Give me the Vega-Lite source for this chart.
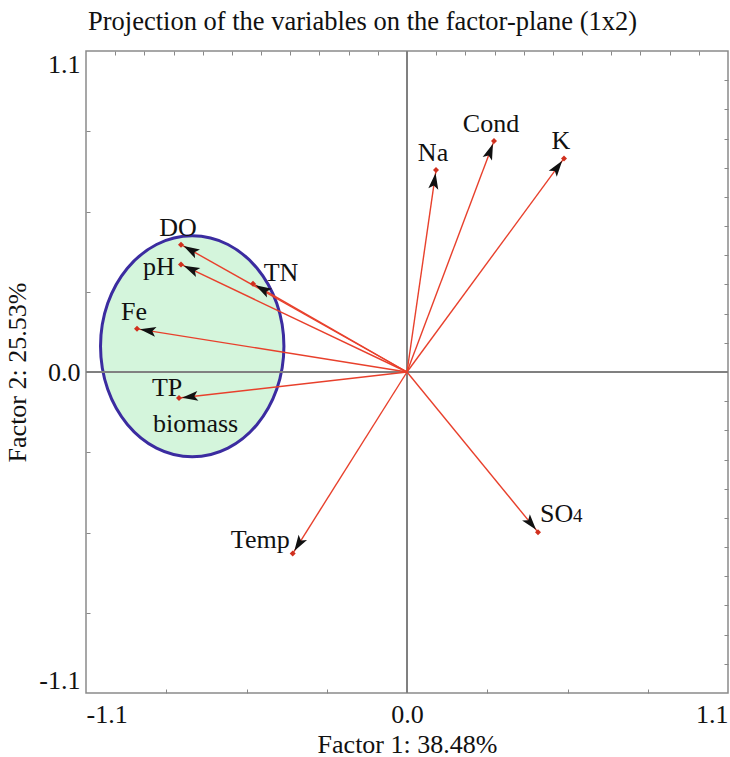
{
  "$schema": "https://vega.github.io/schema/vega-lite/v6.json",
  "width": 642,
  "height": 642,
  "autosize": "none",
  "padding": {"left": 86, "top": 51, "right": 2, "bottom": 64},
  "title": {"text": "Projection of the variables on the factor-plane (1x2)", "anchor": "start", "frame": "group", "dx": 2, "font": "Liberation Serif", "fontSize": 26.5, "fontWeight": "normal", "color": "#111", "baseline": "alphabetic", "offset": -6},
  "datasets": {
    "vars": [
      {"label": "DO", "x": -0.7745, "y": 0.4364},
      {"label": "pH", "x": -0.7745, "y": 0.3687},
      {"label": "TN", "x": -0.5278, "y": 0.3024},
      {"label": "Fe", "x": -0.9253, "y": 0.1478},
      {"label": "TP", "x": -0.7814, "y": -0.0893},
      {"label": "Temp", "x": -0.3917, "y": -0.622},
      {"label": "SO4", "x": 0.4489, "y": -0.5488},
      {"label": "Na", "x": 0.0994, "y": 0.6918},
      {"label": "Cond", "x": 0.2982, "y": 0.7914},
      {"label": "K", "x": 0.538, "y": 0.732}
    ],
    "ellipse": [{"cx": -0.736, "cy": 0.088}]
  },
  "data": {"name": "vars"},
  "config": {
    "view": {"stroke": "#8a8a8a", "strokeWidth": 1.5},
    "axis": {"labelFont": "Liberation Serif", "labelFontSize": 26, "labelColor": "#111", "titleFont": "Liberation Serif", "titleFontSize": 26, "titleFontWeight": "normal", "titleColor": "#111", "tickColor": "#888", "grid": false}
  },
  "layer": [
    {
      "data": {"name": "ellipse"},
      "mark": {"type": "point", "shape": "M1,0 C1,0.6655 0.5523,1.205 0,1.205 C-0.5523,1.205 -1,0.6655 -1,0 C-1,-0.6655 -0.5523,-1.205 0,-1.205 C0.5523,-1.205 1,-0.6655 1,0 Z", "size": 33636, "filled": true, "fill": "#d4f5dc", "stroke": "#3b2ca0", "strokeWidth": 3, "opacity": 1},
      "encoding": {
        "x": {"field": "cx", "type": "quantitative", "scale": {"domain": [-1.1, 1.1], "nice": false, "zero": false},
              "axis": {"orient": "bottom", "values": [-1.1, 0, 1.1], "format": ".1f", "labelExpr": "replace(datum.label, '−', '-')", "labelFlush": true, "ticks": false, "domain": false, "grid": false, "title": "Factor 1: 38.48%", "labelPadding": 8, "titlePadding": 4}},
        "y": {"field": "cy", "type": "quantitative", "scale": {"domain": [-1.1, 1.1], "nice": false, "zero": false},
              "axis": {"orient": "left", "values": [-1.1, 0, 1.1], "format": ".1f", "labelExpr": "replace(datum.label, '−', '-')", "labelFlush": true, "ticks": false, "domain": false, "grid": false, "title": "Factor 2: 25.53%", "labelPadding": 6, "titlePadding": 8}}
      }
    },
    {
      "mark": {"type": "rule", "color": "#808080", "strokeWidth": 1},
      "encoding": {"x": {"datum": 0, "type": "quantitative", "scale": {"domain": [-1.1, 1.1], "nice": false, "zero": false}, "axis": null}}
    },
    {
      "mark": {"type": "rule", "color": "#808080", "strokeWidth": 1},
      "encoding": {"y": {"datum": 0, "type": "quantitative", "scale": {"domain": [-1.1, 1.1], "nice": false, "zero": false}, "axis": null}}
    },
    {
      "mark": {"type": "rule", "color": "#e8402c", "strokeWidth": 1.4},
      "encoding": {
        "x": {"field": "x", "type": "quantitative", "scale": {"domain": [-1.1, 1.1], "nice": false, "zero": false},
              "axis": {"orient": "bottom", "values": [-0.825, -0.55, -0.275, 0.275, 0.55, 0.825], "labels": false, "domain": false, "grid": false, "title": null, "ticks": true, "tickSize": 4, "offset": -4}},
        "y": {"field": "y", "type": "quantitative", "scale": {"domain": [-1.1, 1.1], "nice": false, "zero": false},
              "axis": {"orient": "left", "values": [-0.825, -0.55, -0.275, 0.275, 0.55, 0.825], "labels": false, "domain": false, "grid": false, "title": null, "ticks": true, "tickSize": 4, "offset": -4}},
        "x2": {"datum": 0},
        "y2": {"datum": 0}
      }
    },
    {
      "transform": [{"calculate": "atan2(datum.x, datum.y) * 180 / PI", "as": "angle"}],
      "mark": {"type": "point", "shape": "M0,0.3 L0.5,1.9 L0,1.55 L-0.5,1.9 Z", "size": 400, "filled": true, "color": "#111", "opacity": 1, "strokeWidth": 0},
      "encoding": {
        "x": {"field": "x", "type": "quantitative", "scale": {"domain": [-1.1, 1.1], "nice": false, "zero": false},
              "axis": {"orient": "top", "values": [-1, -0.9, -0.8, -0.7, -0.6, -0.5, -0.4, -0.3, -0.2, -0.1, 0.1, 0.2, 0.3, 0.4, 0.5, 0.6, 0.7, 0.8, 0.9, 1], "labels": false, "domain": false, "grid": false, "title": null, "ticks": true, "tickSize": 4, "offset": -4}},
        "y": {"field": "y", "type": "quantitative", "scale": {"domain": [-1.1, 1.1], "nice": false, "zero": false},
              "axis": {"orient": "right", "values": [-1, -0.9, -0.8, -0.7, -0.6, -0.5, -0.4, -0.3, -0.2, -0.1, 0.1, 0.2, 0.3, 0.4, 0.5, 0.6, 0.7, 0.8, 0.9, 1], "labels": false, "domain": false, "grid": false, "title": null, "ticks": true, "tickSize": 4, "offset": -4}},
        "angle": {"field": "angle", "type": "quantitative", "scale": null}
      }
    },
    {
      "mark": {"type": "point", "shape": "diamond", "size": 36, "filled": true, "color": "#d0301e", "opacity": 1},
      "encoding": {
        "x": {"field": "x", "type": "quantitative", "scale": {"domain": [-1.1, 1.1], "nice": false, "zero": false}, "axis": null},
        "y": {"field": "y", "type": "quantitative", "scale": {"domain": [-1.1, 1.1], "nice": false, "zero": false}, "axis": null}
      }
    },
    {
      "transform": [{"filter": {"field": "label", "oneOf": ["DO", "Fe", "Na", "Cond", "K"]}}],
      "mark": {"type": "text", "font": "Liberation Serif", "fontSize": 26, "color": "#111", "align": "center", "baseline": "alphabetic", "dx": -3, "dy": -9},
      "encoding": {
        "x": {"field": "x", "type": "quantitative", "scale": {"domain": [-1.1, 1.1], "nice": false, "zero": false}, "axis": null},
        "y": {"field": "y", "type": "quantitative", "scale": {"domain": [-1.1, 1.1], "nice": false, "zero": false}, "axis": null},
        "text": {"field": "label"}
      }
    },
    {
      "transform": [{"filter": {"field": "label", "equal": "pH"}}],
      "mark": {"type": "text", "font": "Liberation Serif", "fontSize": 26, "color": "#111", "align": "center", "baseline": "alphabetic", "dx": -22, "dy": 11},
      "encoding": {
        "x": {"field": "x", "type": "quantitative", "scale": {"domain": [-1.1, 1.1], "nice": false, "zero": false}, "axis": null},
        "y": {"field": "y", "type": "quantitative", "scale": {"domain": [-1.1, 1.1], "nice": false, "zero": false}, "axis": null},
        "text": {"field": "label"}
      }
    },
    {
      "transform": [{"filter": {"field": "label", "equal": "TN"}}],
      "mark": {"type": "text", "font": "Liberation Serif", "fontSize": 26, "color": "#111", "align": "center", "baseline": "alphabetic", "dx": 28, "dy": -3},
      "encoding": {
        "x": {"field": "x", "type": "quantitative", "scale": {"domain": [-1.1, 1.1], "nice": false, "zero": false}, "axis": null},
        "y": {"field": "y", "type": "quantitative", "scale": {"domain": [-1.1, 1.1], "nice": false, "zero": false}, "axis": null},
        "text": {"field": "label"}
      }
    },
    {
      "transform": [{"filter": {"field": "label", "equal": "TP"}}],
      "mark": {"type": "text", "font": "Liberation Serif", "fontSize": 26, "color": "#111", "align": "left", "baseline": "alphabetic", "dx": -27, "dy": -2},
      "encoding": {
        "x": {"field": "x", "type": "quantitative", "scale": {"domain": [-1.1, 1.1], "nice": false, "zero": false}, "axis": null},
        "y": {"field": "y", "type": "quantitative", "scale": {"domain": [-1.1, 1.1], "nice": false, "zero": false}, "axis": null},
        "text": {"field": "label"}
      }
    },
    {
      "transform": [{"filter": {"field": "label", "equal": "TP"}}],
      "mark": {"type": "text", "font": "Liberation Serif", "fontSize": 26, "color": "#111", "align": "left", "baseline": "alphabetic", "dx": -26, "dy": 34},
      "encoding": {
        "x": {"field": "x", "type": "quantitative", "scale": {"domain": [-1.1, 1.1], "nice": false, "zero": false}, "axis": null},
        "y": {"field": "y", "type": "quantitative", "scale": {"domain": [-1.1, 1.1], "nice": false, "zero": false}, "axis": null},
        "text": {"value": "biomass"}
      }
    },
    {
      "transform": [{"filter": {"field": "label", "equal": "Temp"}}],
      "mark": {"type": "text", "font": "Liberation Serif", "fontSize": 26, "color": "#111", "align": "right", "baseline": "alphabetic", "dx": -3, "dy": -6},
      "encoding": {
        "x": {"field": "x", "type": "quantitative", "scale": {"domain": [-1.1, 1.1], "nice": false, "zero": false}, "axis": null},
        "y": {"field": "y", "type": "quantitative", "scale": {"domain": [-1.1, 1.1], "nice": false, "zero": false}, "axis": null},
        "text": {"field": "label"}
      }
    },
    {
      "transform": [{"filter": {"field": "label", "equal": "SO4"}}],
      "mark": {"type": "text", "font": "Liberation Serif", "fontSize": 26, "color": "#111", "align": "left", "baseline": "alphabetic", "dx": 2, "dy": -10},
      "encoding": {
        "x": {"field": "x", "type": "quantitative", "scale": {"domain": [-1.1, 1.1], "nice": false, "zero": false}, "axis": null},
        "y": {"field": "y", "type": "quantitative", "scale": {"domain": [-1.1, 1.1], "nice": false, "zero": false}, "axis": null},
        "text": {"value": "SO"}
      }
    },
    {
      "transform": [{"filter": {"field": "label", "equal": "SO4"}}],
      "mark": {"type": "text", "font": "Liberation Serif", "fontSize": 19, "color": "#111", "align": "left", "baseline": "alphabetic", "dx": 35, "dy": -10},
      "encoding": {
        "x": {"field": "x", "type": "quantitative", "scale": {"domain": [-1.1, 1.1], "nice": false, "zero": false}, "axis": null},
        "y": {"field": "y", "type": "quantitative", "scale": {"domain": [-1.1, 1.1], "nice": false, "zero": false}, "axis": null},
        "text": {"value": "4"}
      }
    }
  ],
  "resolve": {"axis": {"x": "independent", "y": "independent"}}
}
